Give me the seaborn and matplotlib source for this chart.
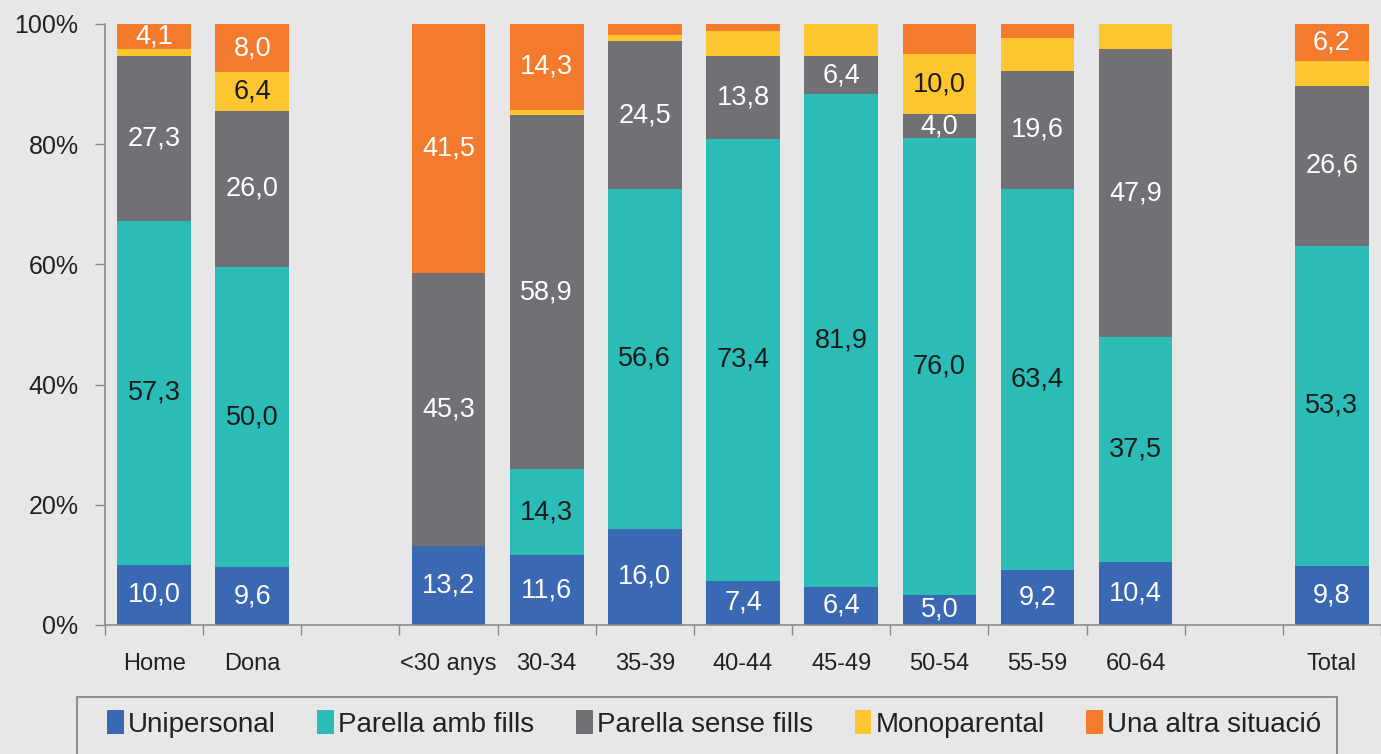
import numpy as np
import pandas as pd
import matplotlib
matplotlib.use("Agg")
import matplotlib.pyplot as plt
from matplotlib.patches import Rectangle, Patch
import seaborn as sns

# ---------------------------------------------------------
# Data (percentages)
# ---------------------------------------------------------
categories = ["Home", "Dona", " ", "<30 anys", "30-34", "35-39", "40-44",
              "45-49", "50-54", "55-59", "60-64", "  ", "Total"]

series = ["Unipersonal", "Parella amb fills", "Parella sense fills",
          "Monoparental", "Una altra situació"]

unipersonal = [10.0, 9.6, 0, 13.2, 11.6, 16.0, 7.4, 6.4, 5.0, 9.2, 10.4, 0, 9.8]
parella_amb = [57.3, 50.0, 0, 0.0, 14.3, 56.6, 73.4, 81.9, 76.0, 63.4, 37.5, 0, 53.3]
parella_sense = [27.3, 26.0, 0, 45.3, 58.9, 24.5, 13.8, 6.4, 4.0, 19.6, 47.9, 0, 26.6]
monoparental = [1.3, 6.4, 0, 0.0, 0.9, 1.0, 4.3, 5.3, 10.0, 5.4, 4.2, 0, 4.1]
altra = [4.1, 8.0, 0, 41.5, 14.3, 1.9, 1.1, 0.0, 5.0, 2.4, 0.0, 0, 6.2]

# which segments carry a printed value
show_uni = [1, 1, 0, 1, 1, 1, 1, 1, 1, 1, 1, 0, 1]
show_amb = [1, 1, 0, 0, 1, 1, 1, 1, 1, 1, 1, 0, 1]
show_sense = [1, 1, 0, 1, 1, 1, 1, 1, 1, 1, 1, 0, 1]
show_mono = [0, 1, 0, 0, 0, 0, 0, 0, 1, 0, 0, 0, 0]
show_altra = [1, 1, 0, 1, 1, 0, 0, 0, 0, 0, 0, 0, 1]

colors = ["#3b68b2", "#2bbcb7", "#717075", "#fec62e", "#f47b2d"]
label_colors = ["white", "#1a1a1a", "white", "#1a1a1a", "white"]

values = [unipersonal, parella_amb, parella_sense, monoparental, altra]
shows = [show_uni, show_amb, show_sense, show_mono, show_altra]

# ---------------------------------------------------------
# Style
# ---------------------------------------------------------
bg = "#e7e7e7"
sns.set_theme(style="white")
plt.rcParams["font.family"] = ["Liberation Sans", "DejaVu Sans"]

fig = plt.figure(figsize=(13.81, 7.54), dpi=100)
fig.patch.set_facecolor(bg)
ax = fig.add_axes([105 / 1381, (754 - 625) / 754, 1 - 105 / 1381, (625 - 24) / 754])
ax.set_facecolor(bg)

# ---------------------------------------------------------
# Stacked bars
# ---------------------------------------------------------
bottom = np.zeros(len(categories))
for name, vals, col, lcol, show in zip(series, values, colors, label_colors, shows):
    df = pd.DataFrame({"cat": categories, "val": vals})
    sns.barplot(data=df, x="cat", y="val", order=categories, color=col,
                saturation=1, width=0.75, errorbar=None, bottom=bottom,
                linewidth=0, ax=ax)
    for i, (v, s) in enumerate(zip(vals, show)):
        if s:
            ax.text(i, bottom[i] + v / 2, f"{v:.1f}".replace(".", ","),
                    ha="center", va="center", color=lcol, fontsize=19.5)
    bottom = bottom + np.array(vals)

# ---------------------------------------------------------
# Axes
# ---------------------------------------------------------
ax.set_xlim(-0.5, len(categories) - 0.5)
ax.set_ylim(0, 100)
ax.set_xlabel("")
ax.set_ylabel("")
ax.set_yticks([0, 20, 40, 60, 80, 100])
ax.set_yticklabels(["0%", "20%", "40%", "60%", "80%", "100%"], fontsize=18, color="#222222")
ax.tick_params(axis="y", direction="out", length=7, width=1, color="#8a8a8a", pad=12, left=True)

ax.set_xticks(range(len(categories)))
ax.set_xticklabels(categories, fontsize=17, color="#222222")
ax.set_xticks(np.arange(-0.5, len(categories)), minor=True)
ax.tick_params(axis="x", which="major", length=0, pad=20)
ax.tick_params(axis="x", which="minor", direction="out", length=7, width=1,
               color="#8a8a8a", bottom=True)

for side in ["top", "right"]:
    ax.spines[side].set_visible(False)
for side in ["left", "bottom"]:
    ax.spines[side].set_color("#8a8a8a")
    ax.spines[side].set_linewidth(1.2)

# ---------------------------------------------------------
# Legend (box drawn separately, runs off the bottom edge)
# ---------------------------------------------------------
fig.patches.append(Rectangle((77 / 1381, -0.05), 1260 / 1381, 0.05 + (754 - 697) / 754,
                             transform=fig.transFigure, facecolor=bg,
                             edgecolor="#8f8f8f", linewidth=1.5))
handles = [Patch(facecolor=c, edgecolor="none") for c in colors]
fig.legend(handles, series, loc="center", bbox_to_anchor=(714 / 1381, (754 - 724) / 754),
           ncol=5, frameon=False, fontsize=20, handlelength=0.6, handleheight=0.9,
           handletextpad=0.15, columnspacing=1.5, labelcolor="#222222")

fig.savefig("out.png", dpi=100, facecolor=bg)
